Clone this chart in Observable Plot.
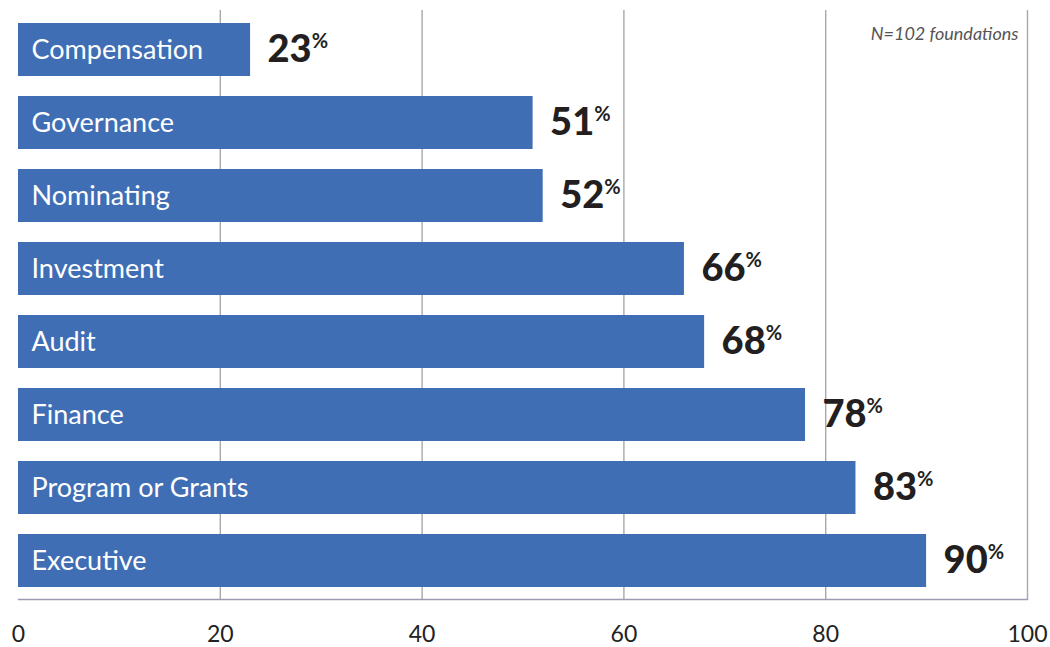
<!DOCTYPE html>
<html><head><meta charset="utf-8">
<script src="https://cdn.jsdelivr.net/npm/d3@7"></script>
<script src="https://cdn.jsdelivr.net/npm/@observablehq/plot@0.6"></script>
<style>body{margin:0;background:#fff}</style>
</head><body><div id="chart"></div>
<script>
const categories = ["Compensation","Governance","Nominating","Investment","Audit","Finance","Program or Grants","Executive"];
const values = [23,51,52,66,68,78,83,90];
const xTicks = [0,20,40,60,80,100];
const gridTicks = [20,40,60,80,100];
const note = "N=102 foundations";
const data = categories.map((c,i)=>({committee:c, pct:values[i]}));
const chart = Plot.plot({
  width:1050, height:647, marginTop:10, marginBottom:48, marginLeft:18, marginRight:23,
  style:{fontFamily:"Lato, sans-serif", background:"#fff", overflow:"visible"},
  x:{domain:[0,100], label:null},
  y:{domain:categories, paddingInner:0.278, paddingOuter:0.15, axis:null},
  marks:[
    Plot.ruleX(gridTicks,{stroke:"#a8a8a8", strokeWidth:1.4}),
    Plot.barX(data,{x:"pct", y:"committee", fill:"#3F6EB5"}),
    Plot.frame({anchor:"bottom", stroke:"#9d9bb3", strokeWidth:1.5}),
    Plot.axisX(xTicks,{tickSize:0, tickPadding:26, fontSize:23, fill:"#222", label:null, tickFormat:d=>String(d)}),
    Plot.text(data,{x:0, y:"committee", text:"committee", textAnchor:"start", dx:13, fill:"#fff", fontSize:27}),
    Plot.text(data,{x:"pct", y:"committee", text:d=>String(d.pct), textAnchor:"start", dx:17, fill:"#231f20", fontSize:38, fontWeight:"900", ariaDescription:"pct"}),
    Plot.text([note],{frameAnchor:"top-right", dx:-9, dy:17, fontStyle:"italic", fontSize:18, fill:"#555", textAnchor:"end"})
  ]
});
chart.querySelectorAll('g[aria-description="pct"] text').forEach(t=>{
  const ts = document.createElementNS("http://www.w3.org/2000/svg","tspan");
  ts.textContent = "%";
  ts.setAttribute("font-size","20");
  ts.setAttribute("font-weight","bold");
  ts.setAttribute("dy","-14");
  ts.setAttribute("dx","0");
  t.appendChild(ts);
});
document.getElementById("chart").appendChild(chart);
</script>
</body></html>
